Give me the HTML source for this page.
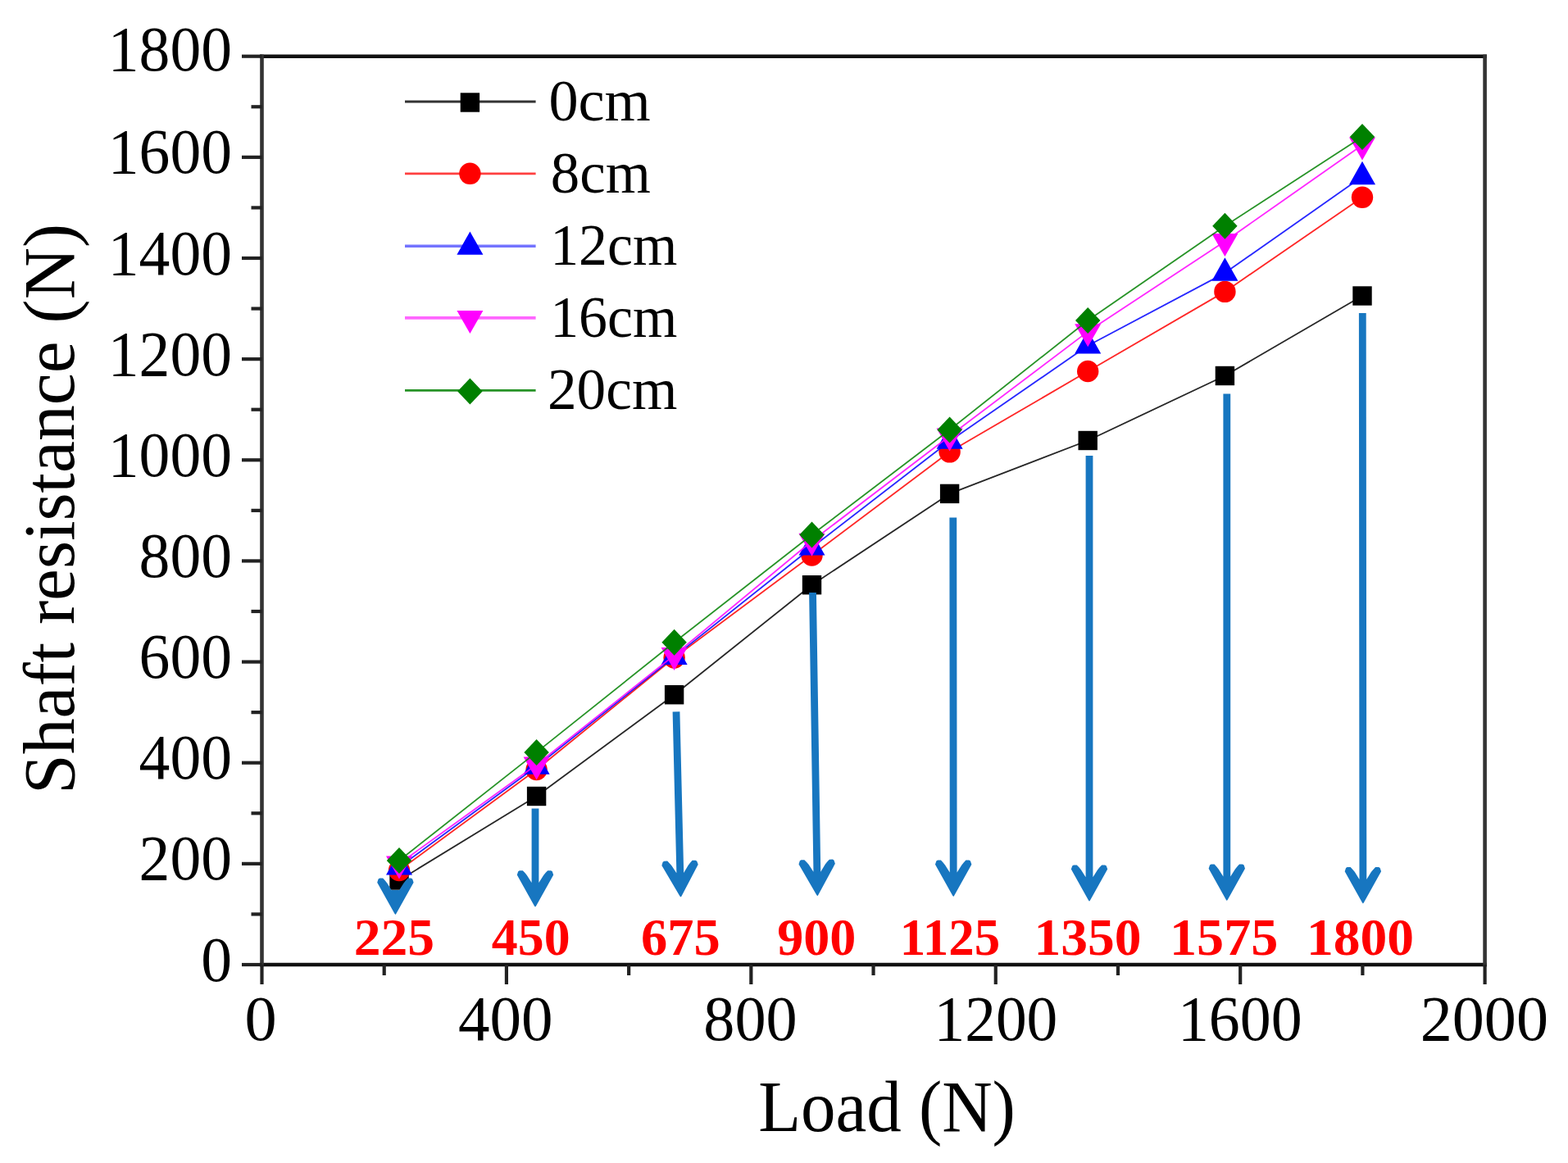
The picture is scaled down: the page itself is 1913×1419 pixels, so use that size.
<!DOCTYPE html>
<html><head><meta charset="utf-8"><title>Shaft resistance vs Load</title>
<style>
html,body{margin:0;padding:0;background:#fff;}
svg{display:block;}
text{font-family:"Liberation Serif","Times New Roman",serif;}
</style></head>
<body>
<svg width="1913" height="1419" viewBox="0 0 1913 1419">
<rect x="0" y="0" width="1913" height="1419" fill="#fff"/>
<polyline points="487.00,1074.00 654.60,971.50 822.60,847.70 990.50,713.70 1158.60,602.40 1327.20,537.50 1494.40,458.50 1662.00,361.00" fill="none" stroke="#000" stroke-width="1.8" stroke-opacity="0.85" stroke-linejoin="round"/>
<rect x="475.30" y="1062.30" width="23.4" height="23.4" fill="#000"/>
<rect x="642.90" y="959.80" width="23.4" height="23.4" fill="#000"/>
<rect x="810.90" y="836.00" width="23.4" height="23.4" fill="#000"/>
<rect x="978.80" y="702.00" width="23.4" height="23.4" fill="#000"/>
<rect x="1146.90" y="590.70" width="23.4" height="23.4" fill="#000"/>
<rect x="1315.50" y="525.80" width="23.4" height="23.4" fill="#000"/>
<rect x="1482.70" y="446.80" width="23.4" height="23.4" fill="#000"/>
<rect x="1650.30" y="349.30" width="23.4" height="23.4" fill="#000"/>
<polyline points="487.00,1062.00 654.60,939.00 822.60,802.50 990.50,677.50 1158.60,551.30 1327.20,453.00 1494.40,355.90 1662.00,240.80" fill="none" stroke="#ff0000" stroke-width="1.8" stroke-opacity="0.85" stroke-linejoin="round"/>
<circle cx="487.00" cy="1062.00" r="13.2" fill="#ff0000"/>
<circle cx="654.60" cy="939.00" r="13.2" fill="#ff0000"/>
<circle cx="822.60" cy="802.50" r="13.2" fill="#ff0000"/>
<circle cx="990.50" cy="677.50" r="13.2" fill="#ff0000"/>
<circle cx="1158.60" cy="551.30" r="13.2" fill="#ff0000"/>
<circle cx="1327.20" cy="453.00" r="13.2" fill="#ff0000"/>
<circle cx="1494.40" cy="355.90" r="13.2" fill="#ff0000"/>
<circle cx="1662.00" cy="240.80" r="13.2" fill="#ff0000"/>
<polyline points="487.00,1058.00 654.60,935.20 822.60,801.40 990.50,668.00 1158.60,538.20 1327.20,421.80 1494.40,333.10 1662.00,215.60" fill="none" stroke="#0000ff" stroke-width="1.8" stroke-opacity="0.85" stroke-linejoin="round"/>
<polygon points="487.00,1039.20 503.00,1067.60 471.00,1067.60" fill="#0000ff"/>
<polygon points="654.60,916.40 670.60,944.80 638.60,944.80" fill="#0000ff"/>
<polygon points="822.60,782.60 838.60,811.00 806.60,811.00" fill="#0000ff"/>
<polygon points="990.50,649.20 1006.50,677.60 974.50,677.60" fill="#0000ff"/>
<polygon points="1158.60,519.40 1174.60,547.80 1142.60,547.80" fill="#0000ff"/>
<polygon points="1327.20,403.00 1343.20,431.40 1311.20,431.40" fill="#0000ff"/>
<polygon points="1494.40,314.30 1510.40,342.70 1478.40,342.70" fill="#0000ff"/>
<polygon points="1662.00,196.80 1678.00,225.20 1646.00,225.20" fill="#0000ff"/>
<polyline points="487.00,1053.90 654.60,933.00 822.60,799.50 990.50,660.20 1158.60,532.00 1327.20,404.60 1494.40,294.50 1662.00,177.00" fill="none" stroke="#ff00ff" stroke-width="1.8" stroke-opacity="0.85" stroke-linejoin="round"/>
<polygon points="471.00,1044.50 503.00,1044.50 487.00,1072.50" fill="#ff00ff"/>
<polygon points="638.60,923.60 670.60,923.60 654.60,951.60" fill="#ff00ff"/>
<polygon points="806.60,790.10 838.60,790.10 822.60,818.10" fill="#ff00ff"/>
<polygon points="974.50,650.80 1006.50,650.80 990.50,678.80" fill="#ff00ff"/>
<polygon points="1142.60,522.60 1174.60,522.60 1158.60,550.60" fill="#ff00ff"/>
<polygon points="1311.20,395.20 1343.20,395.20 1327.20,423.20" fill="#ff00ff"/>
<polygon points="1478.40,285.10 1510.40,285.10 1494.40,313.10" fill="#ff00ff"/>
<polygon points="1646.00,167.60 1678.00,167.60 1662.00,195.60" fill="#ff00ff"/>
<polyline points="487.00,1050.00 654.60,917.90 822.60,783.80 990.50,652.50 1158.60,524.50 1327.20,391.00 1494.40,275.70 1662.00,167.10" fill="none" stroke="#008000" stroke-width="1.8" stroke-opacity="0.85" stroke-linejoin="round"/>
<polygon points="487.00,1034.00 502.20,1050.00 487.00,1066.00 471.80,1050.00" fill="#008000"/>
<polygon points="654.60,901.90 669.80,917.90 654.60,933.90 639.40,917.90" fill="#008000"/>
<polygon points="822.60,767.80 837.80,783.80 822.60,799.80 807.40,783.80" fill="#008000"/>
<polygon points="990.50,636.50 1005.70,652.50 990.50,668.50 975.30,652.50" fill="#008000"/>
<polygon points="1158.60,508.50 1173.80,524.50 1158.60,540.50 1143.40,524.50" fill="#008000"/>
<polygon points="1327.20,375.00 1342.40,391.00 1327.20,407.00 1312.00,391.00" fill="#008000"/>
<polygon points="1494.40,259.70 1509.60,275.70 1494.40,291.70 1479.20,275.70" fill="#008000"/>
<polygon points="1662.00,151.10 1677.20,167.10 1662.00,183.10 1646.80,167.10" fill="#008000"/>
<line x1="317.20" y1="68.70" x2="1813.90" y2="68.70" stroke="#111" stroke-width="4.6"/>
<line x1="317.20" y1="1177.00" x2="1813.90" y2="1177.00" stroke="#111" stroke-width="4.6"/>
<line x1="319.50" y1="66.40" x2="319.50" y2="1179.30" stroke="#333" stroke-width="4.6"/>
<line x1="1811.60" y1="66.40" x2="1811.60" y2="1179.30" stroke="#333" stroke-width="4.6"/>
<line x1="295.00" y1="1177.00" x2="319.50" y2="1177.00" stroke="#222" stroke-width="4.2"/>
<line x1="306.50" y1="1115.43" x2="319.50" y2="1115.43" stroke="#222" stroke-width="4.2"/>
<line x1="295.00" y1="1053.86" x2="319.50" y2="1053.86" stroke="#222" stroke-width="4.2"/>
<line x1="306.50" y1="992.28" x2="319.50" y2="992.28" stroke="#222" stroke-width="4.2"/>
<line x1="295.00" y1="930.71" x2="319.50" y2="930.71" stroke="#222" stroke-width="4.2"/>
<line x1="306.50" y1="869.14" x2="319.50" y2="869.14" stroke="#222" stroke-width="4.2"/>
<line x1="295.00" y1="807.57" x2="319.50" y2="807.57" stroke="#222" stroke-width="4.2"/>
<line x1="306.50" y1="745.99" x2="319.50" y2="745.99" stroke="#222" stroke-width="4.2"/>
<line x1="295.00" y1="684.42" x2="319.50" y2="684.42" stroke="#222" stroke-width="4.2"/>
<line x1="306.50" y1="622.85" x2="319.50" y2="622.85" stroke="#222" stroke-width="4.2"/>
<line x1="295.00" y1="561.28" x2="319.50" y2="561.28" stroke="#222" stroke-width="4.2"/>
<line x1="306.50" y1="499.71" x2="319.50" y2="499.71" stroke="#222" stroke-width="4.2"/>
<line x1="295.00" y1="438.13" x2="319.50" y2="438.13" stroke="#222" stroke-width="4.2"/>
<line x1="306.50" y1="376.56" x2="319.50" y2="376.56" stroke="#222" stroke-width="4.2"/>
<line x1="295.00" y1="314.99" x2="319.50" y2="314.99" stroke="#222" stroke-width="4.2"/>
<line x1="306.50" y1="253.42" x2="319.50" y2="253.42" stroke="#222" stroke-width="4.2"/>
<line x1="295.00" y1="191.84" x2="319.50" y2="191.84" stroke="#222" stroke-width="4.2"/>
<line x1="306.50" y1="130.27" x2="319.50" y2="130.27" stroke="#222" stroke-width="4.2"/>
<line x1="295.00" y1="68.70" x2="319.50" y2="68.70" stroke="#222" stroke-width="4.2"/>
<line x1="319.50" y1="1177.00" x2="319.50" y2="1201.00" stroke="#222" stroke-width="4.2"/>
<line x1="468.71" y1="1177.00" x2="468.71" y2="1190.00" stroke="#222" stroke-width="4.2"/>
<line x1="617.92" y1="1177.00" x2="617.92" y2="1201.00" stroke="#222" stroke-width="4.2"/>
<line x1="767.13" y1="1177.00" x2="767.13" y2="1190.00" stroke="#222" stroke-width="4.2"/>
<line x1="916.34" y1="1177.00" x2="916.34" y2="1201.00" stroke="#222" stroke-width="4.2"/>
<line x1="1065.55" y1="1177.00" x2="1065.55" y2="1190.00" stroke="#222" stroke-width="4.2"/>
<line x1="1214.76" y1="1177.00" x2="1214.76" y2="1201.00" stroke="#222" stroke-width="4.2"/>
<line x1="1363.97" y1="1177.00" x2="1363.97" y2="1190.00" stroke="#222" stroke-width="4.2"/>
<line x1="1513.18" y1="1177.00" x2="1513.18" y2="1201.00" stroke="#222" stroke-width="4.2"/>
<line x1="1662.39" y1="1177.00" x2="1662.39" y2="1190.00" stroke="#222" stroke-width="4.2"/>
<line x1="1811.60" y1="1177.00" x2="1811.60" y2="1201.00" stroke="#222" stroke-width="4.2"/>
<text transform="translate(245.25,1196.56) scale(0.97,1)" font-size="78">0</text>
<text transform="translate(169.59,1073.41) scale(0.97,1)" font-size="78">200</text>
<text transform="translate(169.59,950.27) scale(0.97,1)" font-size="78">400</text>
<text transform="translate(169.59,827.12) scale(0.97,1)" font-size="78">600</text>
<text transform="translate(169.59,703.98) scale(0.97,1)" font-size="78">800</text>
<text transform="translate(131.76,580.83) scale(0.97,1)" font-size="78">1000</text>
<text transform="translate(131.76,457.69) scale(0.97,1)" font-size="78">1200</text>
<text transform="translate(131.76,334.54) scale(0.97,1)" font-size="78">1400</text>
<text transform="translate(131.76,211.40) scale(0.97,1)" font-size="78">1600</text>
<text transform="translate(131.76,86.26) scale(0.97,1)" font-size="78">1800</text>
<text transform="translate(298.42,1269.40) scale(1.0043,1)" font-size="78" fill="#000">0</text>
<text transform="translate(558.89,1269.40) scale(0.9884,1)" font-size="78" fill="#000">400</text>
<text transform="translate(858.30,1269.40) scale(0.9770,1)" font-size="78" fill="#000">800</text>
<text transform="translate(1139.47,1269.40) scale(0.9673,1)" font-size="78" fill="#000">1200</text>
<text transform="translate(1436.93,1269.40) scale(0.9728,1)" font-size="78" fill="#000">1600</text>
<text transform="translate(1732.66,1269.40) scale(1.0027,1)" font-size="78" fill="#000">2000</text>
<line x1="494" y1="124.0" x2="653.6" y2="124.0" stroke="#000" stroke-width="2.8" stroke-opacity="0.8"/>
<rect x="561.70" y="113.30" width="23.4" height="23.4" fill="#000"/>
<text transform="translate(669.45,146.80) scale(1.0175,1)" font-size="71" fill="#000">0cm</text>
<line x1="494" y1="211.8" x2="653.6" y2="211.8" stroke="#ff0000" stroke-width="2.8" stroke-opacity="0.75"/>
<circle cx="573.40" cy="211.80" r="13.2" fill="#ff0000"/>
<text transform="translate(671.80,234.60) scale(0.9981,1)" font-size="71" fill="#000">8cm</text>
<line x1="494" y1="300.2" x2="653.6" y2="300.2" stroke="#0000ff" stroke-width="3.6" stroke-opacity="0.55"/>
<polygon points="573.40,282.40 589.40,310.80 557.40,310.80" fill="#0000ff"/>
<text transform="translate(671.16,323.00) scale(0.9841,1)" font-size="71" fill="#000">12cm</text>
<line x1="494" y1="387.9" x2="653.6" y2="387.9" stroke="#ff00ff" stroke-width="3.6" stroke-opacity="0.6"/>
<polygon points="557.40,379.00 589.40,379.00 573.40,407.00" fill="#ff00ff"/>
<text transform="translate(671.16,410.70) scale(0.9841,1)" font-size="71" fill="#000">16cm</text>
<line x1="494" y1="476.3" x2="653.6" y2="476.3" stroke="#008000" stroke-width="2.8" stroke-opacity="0.85"/>
<polygon points="573.40,461.50 588.60,477.50 573.40,493.50 558.20,477.50" fill="#008000"/>
<text transform="translate(667.97,499.10) scale(1.0045,1)" font-size="71" fill="#000">20cm</text>
<polygon transform="translate(482.40,1116.00) rotate(-0.000)" points="-22.20,-39.20 -20.80,-43.40 -19.20,-44.40 -15.20,-44.40 -12.50,-41.50 -10.10,-38.60 -4.40,-29.50 -4.40,-30.00 4.40,-30.00 4.40,-29.50 10.10,-38.60 12.50,-41.50 15.20,-44.40 19.20,-44.40 20.80,-43.40 22.20,-39.20 1.00,-1.20 0.00,0.00 -1.00,-1.20" fill="#1776c0"/>
<polygon transform="translate(653.00,1106.60) rotate(-0.000)" points="-22.20,-39.20 -20.80,-43.40 -19.20,-44.40 -15.20,-44.40 -12.50,-41.50 -10.10,-38.60 -4.40,-29.50 -4.40,-120.10 4.40,-120.10 4.40,-29.50 10.10,-38.60 12.50,-41.50 15.20,-44.40 19.20,-44.40 20.80,-43.40 22.20,-39.20 1.00,-1.20 0.00,0.00 -1.00,-1.20" fill="#1776c0"/>
<polygon transform="translate(830.50,1094.60) rotate(-1.392)" points="-22.20,-39.20 -20.80,-43.40 -19.20,-44.40 -15.20,-44.40 -12.50,-41.50 -10.10,-38.60 -4.40,-29.50 -4.40,-226.37 4.40,-226.37 4.40,-29.50 10.10,-38.60 12.50,-41.50 15.20,-44.40 19.20,-44.40 20.80,-43.40 22.20,-39.20 1.00,-1.20 0.00,0.00 -1.00,-1.20" fill="#1776c0"/>
<polygon transform="translate(997.30,1093.30) rotate(-0.897)" points="-22.20,-39.20 -20.80,-43.40 -19.20,-44.40 -15.20,-44.40 -12.50,-41.50 -10.10,-38.60 -4.40,-29.50 -4.40,-370.35 4.40,-370.35 4.40,-29.50 10.10,-38.60 12.50,-41.50 15.20,-44.40 19.20,-44.40 20.80,-43.40 22.20,-39.20 1.00,-1.20 0.00,0.00 -1.00,-1.20" fill="#1776c0"/>
<polygon transform="translate(1163.20,1094.00) rotate(-0.050)" points="-22.20,-39.20 -20.80,-43.40 -19.20,-44.40 -15.20,-44.40 -12.50,-41.50 -10.10,-38.60 -4.40,-29.50 -4.40,-462.40 4.40,-462.40 4.40,-29.50 10.10,-38.60 12.50,-41.50 15.20,-44.40 19.20,-44.40 20.80,-43.40 22.20,-39.20 1.00,-1.20 0.00,0.00 -1.00,-1.20" fill="#1776c0"/>
<polygon transform="translate(1329.00,1099.80) rotate(-0.000)" points="-22.20,-39.20 -20.80,-43.40 -19.20,-44.40 -15.20,-44.40 -12.50,-41.50 -10.10,-38.60 -4.40,-29.50 -4.40,-543.80 4.40,-543.80 4.40,-29.50 10.10,-38.60 12.50,-41.50 15.20,-44.40 19.20,-44.40 20.80,-43.40 22.20,-39.20 1.00,-1.20 0.00,0.00 -1.00,-1.20" fill="#1776c0"/>
<polygon transform="translate(1496.80,1099.00) rotate(-0.000)" points="-22.20,-39.20 -20.80,-43.40 -19.20,-44.40 -15.20,-44.40 -12.50,-41.50 -10.10,-38.60 -4.40,-29.50 -4.40,-618.40 4.40,-618.40 4.40,-29.50 10.10,-38.60 12.50,-41.50 15.20,-44.40 19.20,-44.40 20.80,-43.40 22.20,-39.20 1.00,-1.20 0.00,0.00 -1.00,-1.20" fill="#1776c0"/>
<polygon transform="translate(1662.90,1102.40) rotate(-0.048)" points="-22.20,-39.20 -20.80,-43.40 -19.20,-44.40 -15.20,-44.40 -12.50,-41.50 -10.10,-38.60 -4.40,-29.50 -4.40,-720.40 4.40,-720.40 4.40,-29.50 10.10,-38.60 12.50,-41.50 15.20,-44.40 19.20,-44.40 20.80,-43.40 22.20,-39.20 1.00,-1.20 0.00,0.00 -1.00,-1.20" fill="#1776c0"/>
<text transform="translate(431.74,1165.20) scale(1.0256,1)" font-size="64" font-weight="bold" fill="#ff0000">225</text>
<text transform="translate(599.83,1165.20) scale(0.9980,1)" font-size="64" font-weight="bold" fill="#ff0000">450</text>
<text transform="translate(782.00,1165.20) scale(1.0069,1)" font-size="64" font-weight="bold" fill="#ff0000">675</text>
<text transform="translate(948.15,1165.20) scale(1.0020,1)" font-size="64" font-weight="bold" fill="#ff0000">900</text>
<text transform="translate(1097.87,1165.20) scale(0.9823,1)" font-size="64" font-weight="bold" fill="#ff0000">1125</text>
<text transform="translate(1261.45,1165.20) scale(1.0246,1)" font-size="64" font-weight="bold" fill="#ff0000">1350</text>
<text transform="translate(1427.00,1165.20) scale(1.0346,1)" font-size="64" font-weight="bold" fill="#ff0000">1575</text>
<text transform="translate(1593.95,1165.20) scale(1.0246,1)" font-size="64" font-weight="bold" fill="#ff0000">1800</text>
<text transform="translate(925.15,1380.40) scale(0.9653,1)" font-size="88" fill="#000">Load (N)</text>
<text transform="translate(89.80,969.07) rotate(-90) scale(0.9853,1)" font-size="89" fill="#000">Shaft resistance (N)</text>
</svg>
</body></html>
